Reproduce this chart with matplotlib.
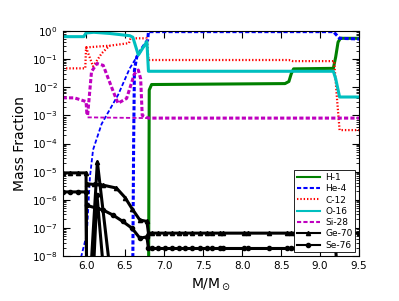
#!/usr/bin/env python3

import numpy as np
import matplotlib
matplotlib.use('Agg')
import matplotlib.pyplot as plt

nan = np.nan
LOW = 1e-10  # below the plotted range

# H-1
h1_m = [6.80, 6.81, 6.84, 8.55, 8.60, 8.63, 8.66, 9.17, 9.20, 9.23, 9.26, 9.5]
h1_x = [LOW, 8e-3, 0.0125, 0.0135, 0.016, 0.03, 0.045, 0.047, 0.12, 0.4, 0.55, 0.55]

# He-4 (main profile, steep rise, tail)
he4_m = [6.595, 6.60, 6.61, 6.62, 6.65, 6.72, 6.79, 6.80, 9.17, 9.25, 9.5]
he4_x = [LOW, 1e-8, 1e-4, 0.04, 0.12, 0.25, 0.48, 0.95, 0.95, 0.55, 0.52]
he4_diag_m = [5.92, 5.94, 6.01, 6.05, 6.09, 6.2, 6.41, 6.56, 6.65]
he4_diag_x = [LOW, 1e-8, 6e-8, 6.6e-6, 6e-5, 5e-4, 5.3e-3, 0.047, 0.12]

# C-12
c12_m = [5.7, 5.99, 6.0, 6.09, 6.2, 6.3, nan, 6.0, 6.15, 6.3, 6.55, 6.57, 6.78, 6.8,
         8.6, 8.65, 9.18, 9.22, 9.25, 9.5]
c12_x = [0.047, 0.047, 0.26, 0.055, 0.16, 0.3, nan, 0.26, 0.28, 0.3, 0.37, 0.55, 0.55, 0.093,
         0.093, 0.085, 0.085, 3e-3, 3e-4, 3e-4]

# O-16
o16_m = [5.7, 5.97, 6.0, 6.1, 6.3, 6.56, 6.6, 6.67, 6.78, 6.8, 9.17, 9.2, 9.25, 9.5]
o16_x = [0.63, 0.63, 0.85, 0.9, 0.82, 0.68, 0.6, 0.14, 0.42, 0.037, 0.037, 0.02, 4.5e-3, 4.5e-3]

# Si-28
si28_m = [5.7, 5.85, 6.0, 6.01, 6.02, 6.07, 6.14, 6.22, 6.35, 6.41, 6.52, 6.62, 6.67, 6.7,
          6.72, 6.8, 9.5]
si28_x = [4.2e-3, 4.2e-3, 3.1e-3, 1.2e-3, 1e-3, 0.036, 0.07, 0.06, 6.9e-3, 2.7e-3, 4e-3,
          0.03, 0.041, 0.02, 1e-3, 8e-4, 8e-4]
si28_flat_m = [6.02, 6.8]
si28_flat_x = [8.5e-4, 8e-4]

# Ge-70
ge70_m = [5.7, 5.8, 5.9, 6.0, 6.01, nan, 6.03, 6.145, 6.37, nan,
          6.01, 6.1, 6.22, 6.39, 6.5, 6.59, 6.69, 6.78, 6.8, 6.84, 6.92, 7.01, 7.10,
          7.19, 7.27, 7.36, 7.46, 7.55, 7.61, 7.72, 7.76, 8.02, 8.07, 8.34, 8.57,
          8.63, 8.68, 9.5]
ge70_x = [9e-6, 9e-6, 9e-6, 9e-6, LOW, nan, LOW, 2.2e-5, LOW, nan,
          3.7e-6, 3.5e-6, 3.3e-6, 2.6e-6, 1.2e-6, 4.8e-7, 1.9e-7, 1.7e-7, 6.5e-8] + [6.5e-8] * 19

# Se-76
se76_m = [5.7, 5.8, 5.9, 6.0, 6.01, nan, 6.07, 6.14, 6.27, nan,
          6.01, 6.22, 6.35, 6.47, 6.59, 6.69, 6.78, 6.8, 6.84, 6.92, 7.01, 7.10,
          7.19, 7.27, 7.36, 7.46, 7.55, 7.61, 7.72, 7.76, 8.02, 8.07, 8.34, 8.57,
          8.63, 8.68, 9.2, 9.25, 9.5]
se76_x = [1.9e-6, 1.9e-6, 1.9e-6, 1.9e-6, LOW, nan, LOW, 1.5e-6, LOW, nan,
          6.3e-7, 4.3e-7, 2.8e-7, 1.7e-7, 9.7e-8, 4.3e-8, 4.8e-8, 1.85e-8] + [1.85e-8] * 19 + [LOW, LOW]

DASH = (3.0, 1.6)
DOT = (1.0, 1.4)


def plot_abundances():
    plt.rcParams['lines.scale_dashes'] = False
    fig = plt.figure(figsize=(3.99, 3.01), dpi=100)
    ax = fig.add_axes([0.157, 0.1495, 0.743, 0.7475])

    ax.plot(h1_m, h1_x, color='g', ls='-', lw=2.2, label='H-1')
    ax.plot(he4_m, he4_x, color='b', dashes=DASH, lw=2.2, label='He-4')
    ax.plot(he4_diag_m, he4_diag_x, color='b', dashes=DASH, lw=1.3)
    ax.plot(c12_m, c12_x, color='r', dashes=DOT, lw=1.6, label='C-12')
    ax.plot(o16_m, o16_x, color='c', ls='-', lw=2.2, label='O-16')
    ax.plot(si28_m, si28_x, color='m', dashes=DASH, lw=2.2, label='Si-28')
    ax.plot(si28_flat_m, si28_flat_x, color='m', dashes=DASH, lw=1.3)
    ax.plot(ge70_m, ge70_x, color='k', ls='-', lw=2.2, marker='^', ms=3, label='Ge-70')
    ax.plot(se76_m, se76_x, color='k', ls='-', lw=2.2, marker='o', ms=3, label='Se-76')

    ax.set_yscale('log')
    ax.set_xlim(5.7, 9.5)
    ax.set_ylim(1e-8, 1)
    ax.set_xticks([6.0, 6.5, 7.0, 7.5, 8.0, 8.5, 9.0, 9.5])
    ax.tick_params(which='both', direction='in', top=True, right=True, labelsize=7.5)
    ax.tick_params(which='major', length=5)
    ax.tick_params(which='minor', length=2.5)
    ax.set_xlabel(r'M/M$_\odot$', fontsize=10)
    ax.set_ylabel('Mass Fraction', fontsize=10)

    leg = ax.legend(loc='lower right', fontsize=6.5, fancybox=False, framealpha=1,
                    edgecolor='k', labelspacing=0.25, handlelength=2.6,
                    borderpad=0.3, borderaxespad=0.4, handletextpad=0.6)
    leg.get_frame().set_linewidth(0.6)
    for line in leg.get_lines():
        line.set_linewidth(1.5)

    fig.savefig('out.png', dpi=100)


if __name__ == "__main__":
    plot_abundances()
